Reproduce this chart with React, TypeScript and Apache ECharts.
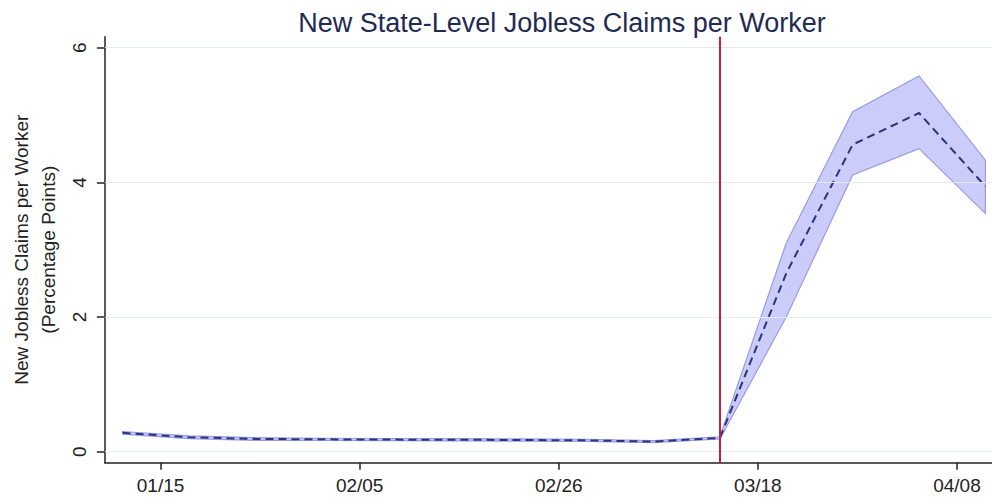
import React, { useEffect, useRef } from "react";
import * as echarts from "echarts";

const weekDates = [
  "2020-01-11", "2020-01-18", "2020-01-25", "2020-02-01", "2020-02-08",
  "2020-02-15", "2020-02-22", "2020-02-29", "2020-03-07", "2020-03-14",
  "2020-03-21", "2020-03-28", "2020-04-04", "2020-04-11",
];
const meanClaims = [0.28, 0.215, 0.19, 0.184, 0.18, 0.178, 0.174, 0.169, 0.15, 0.205, 2.65, 4.56, 5.03, 3.94];
const upperCI = [0.3, 0.235, 0.21, 0.2, 0.196, 0.194, 0.19, 0.185, 0.166, 0.222, 3.1, 5.05, 5.58, 4.33];
const lowerCI = [0.26, 0.195, 0.17, 0.168, 0.164, 0.162, 0.158, 0.153, 0.134, 0.19, 2.0, 4.11, 4.5, 3.54];
const xTickDates = ["2020-01-15", "2020-02-05", "2020-02-26", "2020-03-18", "2020-04-08"];
const policyDate = "2020-03-14";
const yTicks = [0, 2, 4, 6];

const titleText = "New State-Level Jobless Claims per Worker";
const yAxisTitle = "New Jobless Claims per Worker\n(Percentage Points)";

const BASE = Date.UTC(2020, 0, 1);
const dayNum = (s: string) => (Date.parse(s + "T00:00:00Z") - BASE) / 86400000;
const fmtDay = (d: number) => {
  const dt = new Date(BASE + Math.round(d) * 86400000);
  const mm = String(dt.getUTCMonth() + 1).padStart(2, "0");
  const dd = String(dt.getUTCDate()).padStart(2, "0");
  return mm + "/" + dd;
};

const FONT = "'Liberation Sans', Arial, Helvetica, sans-serif";

export default function App() {
  const ref = useRef<HTMLDivElement>(null);
  useEffect(() => {
    if (!ref.current) return;
    const chart = echarts.init(ref.current, undefined, { renderer: "svg" });
    const xs = weekDates.map(dayNum);
    const xTicks = xTickDates.map(dayNum);
    const meanData = xs.map((x, i) => [x, meanClaims[i]]);

    chart.setOption({
      animation: false,
      backgroundColor: "#ffffff",
      textStyle: { fontFamily: FONT },
      title: {
        text: titleText,
        left: 557,
        top: 4,
        textAlign: "center",
        textStyle: { fontFamily: FONT, fontSize: 27, fontWeight: "normal", color: "#1f2b52" },
      },
      grid: { left: 99, right: 0, top: 36.7, bottom: 34.3, containLabel: false },
      xAxis: {
        type: "value",
        min: 8.13,
        max: 101.7,
        axisLine: { show: true, onZero: false, lineStyle: { color: "#222", width: 1.5 } },
        axisTick: { show: true, customValues: xTicks, length: 7, lineStyle: { color: "#222", width: 1.5 } },
        axisLabel: {
          customValues: xTicks,
          formatter: (v: number) => fmtDay(v),
          fontSize: 19,
          color: "#222",
          margin: 13,
          fontFamily: FONT,
        },
        splitLine: { show: false },
      },
      yAxis: {
        type: "value",
        min: -0.163,
        max: 6.163,
        name: yAxisTitle,
        nameLocation: "middle",
        nameRotate: 90,
        nameGap: 42,
        nameTextStyle: { fontSize: 19, color: "#222", lineHeight: 27, fontFamily: FONT },
        axisLine: { show: true, onZero: false, lineStyle: { color: "#222", width: 1.5 } },
        axisTick: { show: true, customValues: yTicks, length: 8, lineStyle: { color: "#222", width: 1.5 } },
        axisLabel: {
          customValues: yTicks,
          rotate: 90,
          fontSize: 19,
          color: "#222",
          margin: 16,
          fontFamily: FONT,
        },
        splitLine: { show: false },
      },
      series: [
        {
          type: "custom",
          name: "band",
          silent: true,
          z: 2,
          encode: { x: 0, y: 1 },
          data: [[xs[0], upperCI[0]]],
          renderItem: (params: any, api: any) => {
            const up = xs.map((x, i) => api.coord([x, upperCI[i]]));
            const lo = xs.map((x, i) => api.coord([x, lowerCI[i]])).reverse();
            return {
              type: "polygon",
              shape: { points: up.concat(lo) },
              style: { fill: "rgba(100,100,240,0.33)", stroke: "#9a9ae6", lineWidth: 1.2 },
            };
          },
        },
        {
          type: "line",
          name: "mean",
          data: meanData,
          showSymbol: false,
          symbol: "none",
          z: 3,
          lineStyle: { color: "#27357a", width: 2, type: [8, 5] },
          markLine: {
            silent: true,
            symbol: ["none", "none"],
            label: { show: false },
            data: [
              ...yTicks.map((v) => ({
                yAxis: v,
                lineStyle: { color: "#e4eaee", width: 1, type: "solid" },
              })),
              {
                xAxis: dayNum(policyDate),
                lineStyle: { color: "#c4203c", width: 2, type: "solid" },
              },
            ],
          },
        },
      ],
    });
    return () => chart.dispose();
  }, []);
  return (
    <div
      ref={ref}
      style={{ position: "absolute", left: 0, top: 0, width: 992, height: 497 }}
    />
  );
}
